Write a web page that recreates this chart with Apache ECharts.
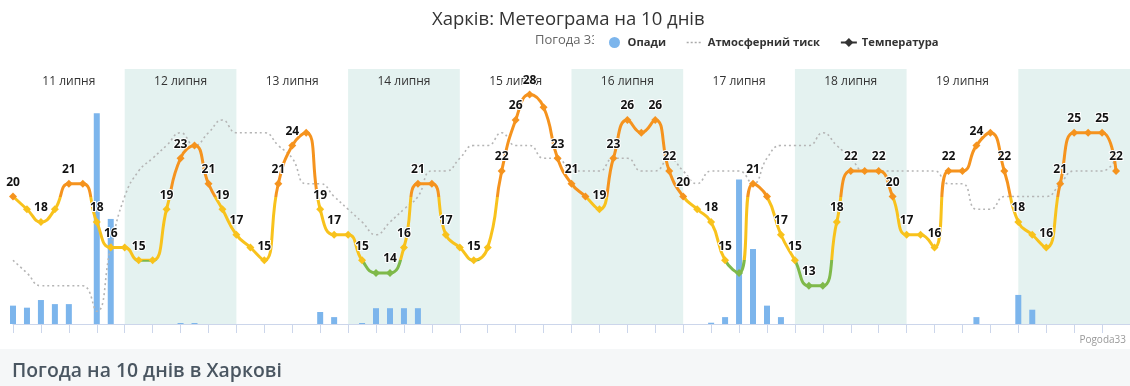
<!DOCTYPE html>
<html><head><meta charset="utf-8">
<script src="https://cdn.jsdelivr.net/npm/echarts@6/dist/echarts.min.js"></script>
<style>html,body{margin:0;padding:0;background:#fff;}#chart{width:1130px;height:386px;}</style>
</head><body><div id="chart"></div>
<script>
// 3-hour steps, 10 days x 8 points
const dayLabels = ['11 липня','12 липня','13 липня','14 липня','15 липня','16 липня','17 липня','18 липня','19 липня',''];
const temperature = [
  20,19,18,19,21,21,18,16,16,15,15,19,23,
  24,21,19,17,16,15,21,24,25,19,17,17,15,
  14,14,16,21,21,17,16,15,16,22,26,28,27,23,
  21,20,19,23,26,25,26,22,20,19,18,15,14,
  21,20,17,15,13,13,18,22,22,22,20,17,17,
  16,22,22,24,25,22,18,17,16,21,25,25,25,22
];
const pressure = [
  1005,1004,1003,1003,1003,1003,1001,1006,1010,1012,1013,1014,1015,
  1014,1015,1016,1015,1015,1015,1014,1013,1011,1011,1010,1009,1008,
  1007,1008,1009,1010,1012,1012,1013,1014,1014,1015,1014,1014,1013,1013,
  1012,1012,1012,1013,1013,1012,1012,1013,1012,1011,1012,1012,1012,
  1011,1013,1014,1014,1014,1015,1014,1013,1012,1012,1012,1012,1012,
  1012,1011,1011,1009,1009,1010,1010,1010,1010,1011,1012,1012,1012,1013
];
const precipitation = [
  0.72,0.64,0.94,0.78,0.78,0,8.26,4.12,0,0,0,0,0.04,
  0.04,0,0,0,0,0,0,0,0,0.47,0.27,0,0.04,
  0.62,0.62,0.62,0.62,0,0,0,0,0,0,0,0,0,0,
  0,0,0,0,0,0,0,0,0,0,0.05,0.27,5.67,
  2.94,0.72,0.27,0,0,0,0,0,0,0,0,0,0,
  0,0,0,0.27,0,0,1.14,0.56,0,0,0,0,0,0
];
const labelledPoints = [0,2,4,6,7,9,11,12,14,15,16,18,19,20,22,23,25,27,28,29,31,33,35,36,37,39,40,42,43,44,46,47,48,50,51,53,55,56,57,59,60,62,63,64,66,67,69,71,72,74,75,76,78,79];

const FONT = '"Open Sans", sans-serif';
const chart = echarts.init(document.getElementById('chart'));
const bands = dayLabels.map((name, d) => [
  { xAxis: d * 8, name: name, itemStyle: { color: d % 2 ? '#e4f2f0' : 'rgba(0,0,0,0)' } },
  { xAxis: d * 8 + 8 }
]);
chart.setOption({
  animation: false,
  textStyle: { fontFamily: FONT },
  title: {
    text: 'Харків: Метеограма на 10 днів',
    left: 427, top: 5,
    textStyle: { fontSize: 18.5, fontWeight: 'normal', color: '#333', fontFamily: FONT }
  },
  legend: {
    left: 604, top: 32, itemGap: 20, itemWidth: 16, itemHeight: 11, selectedMode: false,
    textStyle: { fontSize: 11.2, fontWeight: 'bold', color: '#333', fontFamily: FONT },
    data: [
      { name: 'Опади', icon: 'circle', itemStyle: { color: '#7cb5ec' } },
      { name: 'Атмосферний тиск', itemStyle: { color: 'rgba(0,0,0,0)', borderWidth: 0 }, lineStyle: { color: '#aaa', type: [2, 2], width: 1.5 } },
      { name: 'Температура', itemStyle: { color: '#333' }, lineStyle: { color: '#333', width: 2 } }
    ]
  },
  graphic: [
    { type: 'text', left: 535, top: 34, z: 1, style: { text: 'Погода 33', font: '13px ' + FONT, fill: '#666' } },
    { type: 'rect', shape: { x: 594, y: 28, width: 11, height: 22 }, z: 2, style: { fill: '#fff' } },
    { type: 'rect', shape: { x: 0, y: 349, width: 1130, height: 37 }, style: { fill: '#f5f7f8' } },
    { type: 'text', left: 12, top: 362, style: { text: 'Погода на 10 днів в Харкові', font: '600 19.4px ' + FONT, fill: '#4a5661' } },
    { type: 'text', right: 4, top: 335, style: { text: 'Pogoda33', font: '10px ' + FONT, fill: '#999' } }
  ],
  grid: { left: 13, right: -3, top: 69, bottom: 62 },
  xAxis: {
    type: 'value', min: 0, max: 80, interval: 2,
    axisLine: { lineStyle: { color: '#ccd6eb' } },
    axisTick: { length: 9, lineStyle: { color: '#ccd6eb' } },
    axisLabel: { show: false }, splitLine: { show: false }
  },
  yAxis: [
    { type: 'value', min: 10, max: 30, show: false, splitLine: { show: false } },
    { type: 'value', min: 1000, max: 1020, show: false, splitLine: { show: false } },
    { type: 'value', min: 0, max: 10, show: false, splitLine: { show: false } }
  ],
  visualMap: {
    show: false, seriesIndex: 2, dimension: 1,
    pieces: [
      { lt: 15, color: '#7fb94a' },
      { gte: 15, lt: 20, color: '#f8c21c' },
      { gte: 20, color: '#f5931e' }
    ]
  },
  series: [
    {
      name: 'Опади', type: 'bar', yAxisIndex: 2, z: 1, barWidth: 6,
      itemStyle: { color: '#7cb5ec' },
      data: precipitation.map((v, i) => [i, v]),
      markArea: {
        silent: true,
        label: { show: true, position: 'insideTop', distance: 7, color: '#333', fontSize: 12, fontFamily: FONT },
        data: bands
      }
    },
    {
      name: 'Атмосферний тиск', type: 'line', yAxisIndex: 1, z: 2, smooth: 0.5,
      showSymbol: false, symbol: 'none',
      lineStyle: { color: '#b5b5b5', width: 1.6, type: [2, 3] },
      itemStyle: { color: '#aaa' },
      data: pressure.map((v, i) => [i, v])
    },
    {
      name: 'Температура', type: 'line', yAxisIndex: 0, z: 3, smooth: 0.5,
      symbol: 'diamond', symbolSize: 8, showAllSymbol: true,
      lineStyle: { width: 3 },
      label: {
        position: 'top', distance: 4, fontSize: 12, fontWeight: 'bold', color: '#111',
        textBorderColor: '#fff', textBorderWidth: 2, fontFamily: FONT,
        formatter: p => p.value[1]
      },
      data: temperature.map((v, i) => ({ value: [i, v], label: { show: labelledPoints.includes(i) } }))
    }
  ]
});
</script></body></html>
